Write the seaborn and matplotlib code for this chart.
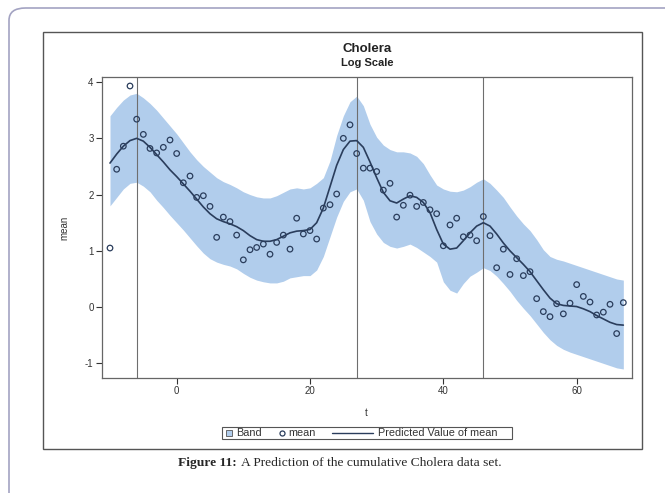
import numpy as np
import pandas as pd
import matplotlib
matplotlib.use("Agg")
import matplotlib.pyplot as plt
import seaborn as sns
from matplotlib.patches import FancyBboxPatch, Rectangle
from matplotlib.lines import Line2D

# ---- data ----
t_obs = list(range(-10, 68))
mean_obs = [1.05, 2.45, 2.86, 3.93, 3.34, 3.07, 2.82, 2.74, 2.84, 2.97,
            2.73, 2.21, 2.33, 1.95, 1.98, 1.79, 1.24, 1.60, 1.52, 1.28,
            0.84, 1.02, 1.06, 1.12, 0.94, 1.15, 1.28, 1.03, 1.58, 1.30,
            1.36, 1.21, 1.76, 1.82, 2.01, 3.00, 3.24, 2.73, 2.47, 2.47,
            2.41, 2.08, 2.20, 1.60, 1.81, 1.99, 1.79, 1.86, 1.73, 1.66,
            1.09, 1.46, 1.58, 1.25, 1.28, 1.18, 1.61, 1.27, 0.70, 1.03,
            0.58, 0.86, 0.56, 0.63, 0.15, -0.08, -0.17, 0.06, -0.12, 0.07,
            0.40, 0.19, 0.09, -0.14, -0.09, 0.05, -0.47, 0.08]
predicted = [2.56, 2.72, 2.86, 2.96, 3.00, 2.95, 2.84, 2.71, 2.58, 2.44,
             2.32, 2.19, 2.06, 1.92, 1.78, 1.66, 1.57, 1.52, 1.48, 1.43,
             1.36, 1.27, 1.20, 1.17, 1.17, 1.20, 1.26, 1.32, 1.35, 1.36,
             1.38, 1.50, 1.76, 2.14, 2.52, 2.80, 2.95, 2.96, 2.84, 2.58,
             2.30, 2.04, 1.89, 1.85, 1.92, 1.98, 1.95, 1.86, 1.68, 1.38,
             1.12, 1.03, 1.05, 1.18, 1.32, 1.44, 1.50, 1.44, 1.30, 1.14,
             1.00, 0.88, 0.76, 0.63, 0.47, 0.31, 0.16, 0.06, 0.03, 0.02,
             0.01, -0.03, -0.08, -0.15, -0.21, -0.27, -0.31, -0.32]
band_upper = [3.40, 3.55, 3.68, 3.77, 3.80, 3.72, 3.62, 3.50, 3.36, 3.22,
              3.08, 2.92, 2.76, 2.62, 2.50, 2.40, 2.30, 2.23, 2.18, 2.12,
              2.05, 2.00, 1.96, 1.94, 1.94, 1.98, 2.04, 2.10, 2.12, 2.10,
              2.12, 2.20, 2.30, 2.60, 3.05, 3.40, 3.65, 3.75, 3.58, 3.25,
              3.02, 2.88, 2.80, 2.76, 2.76, 2.74, 2.68, 2.55, 2.35, 2.17,
              2.10, 2.06, 2.05, 2.08, 2.14, 2.22, 2.28, 2.20, 2.08, 1.95,
              1.78, 1.62, 1.48, 1.36, 1.20, 1.02, 0.90, 0.85, 0.82, 0.78,
              0.74, 0.70, 0.66, 0.62, 0.58, 0.54, 0.50, 0.48]
band_lower = [1.80, 1.95, 2.10, 2.20, 2.22, 2.15, 2.05, 1.90, 1.77, 1.63,
              1.50, 1.37, 1.23, 1.09, 0.96, 0.86, 0.80, 0.76, 0.73, 0.68,
              0.60, 0.53, 0.48, 0.45, 0.43, 0.43, 0.46, 0.52, 0.54, 0.56,
              0.56, 0.66, 0.90, 1.25, 1.60, 1.88, 2.05, 2.10, 1.90, 1.52,
              1.30, 1.15, 1.08, 1.05, 1.08, 1.12, 1.06, 0.98, 0.90, 0.80,
              0.45, 0.30, 0.25, 0.42, 0.55, 0.62, 0.70, 0.65, 0.55, 0.42,
              0.28, 0.12, -0.02, -0.15, -0.30, -0.45, -0.58, -0.68, -0.75, -0.80,
              -0.84, -0.88, -0.92, -0.96, -1.00, -1.04, -1.08, -1.10]
ref_lines = [-6, 27, 46]
x_ticks = [0, 20, 40, 60]
y_ticks = [-1, 0, 1, 2, 3, 4]
legend_labels = ["Band", "mean", "Predicted Value of mean"]

df = pd.DataFrame({"t": t_obs, "mean": mean_obs, "pred": predicted,
                   "upper": band_upper, "lower": band_lower})

sns.set_theme(style="ticks")
plt.rcParams["font.family"] = ["Liberation Sans", "DejaVu Sans"]
plt.rcParams["axes.unicode_minus"] = False

BAND = "#b1cdec"
DARK = "#2a3d5c"

W, H = 665, 493
fig = plt.figure(figsize=(W / 100, H / 100), dpi=100)
fig.patch.set_facecolor("white")

def fx(px):
    return px / W

def fy(py):
    return 1 - py / H

# outer rounded border
outer = FancyBboxPatch((fx(9), fy(520)), fx(700), fy(8) - fy(520),
                       boxstyle="round,pad=0,rounding_size=0.025",
                       transform=fig.transFigure, fill=False,
                       edgecolor="#a3a3c2", linewidth=1.2, clip_on=False)
fig.patches.append(outer)
# SAS frame
frame = Rectangle((fx(43), fy(449)), fx(642) - fx(43), fy(32) - fy(449),
                  transform=fig.transFigure, fill=False,
                  edgecolor="#555555", linewidth=1.0)
fig.patches.append(frame)

ax = fig.add_axes([fx(102), fy(378), fx(632) - fx(102), fy(77) - fy(378)])

ax.fill_between(df["t"], df["lower"], df["upper"], color=BAND,
                linewidth=0, zorder=1)
for xv in ref_lines:
    ax.axvline(xv, color="#6e6e6e", linewidth=0.8, zorder=2)
sns.lineplot(data=df, x="t", y="pred", ax=ax, color=DARK,
             linewidth=1.2, zorder=3)
sns.scatterplot(data=df, x="t", y="mean", ax=ax, marker="o", s=16,
                facecolor="none", edgecolor=DARK, linewidth=0.9,
                zorder=4)

ax.set_xlim(-11.2, 68.3)
ax.set_ylim(-1.26, 4.09)
ax.set_xticks(x_ticks)
ax.set_yticks(y_ticks)
ax.tick_params(axis="both", labelsize=7, length=4, width=0.8,
               colors="#333333", pad=2)
for sp in ax.spines.values():
    sp.set_color("#666666")
    sp.set_linewidth(0.9)
ax.set_xlabel("")
ax.set_ylabel("")

fig.text(fx(64), fy(228), "mean", rotation=90, ha="center", va="center",
         fontsize=7, color="#333333")
fig.text(fx(366), fy(413), "t", ha="center", va="center", fontsize=7,
         color="#333333")
fig.text(fx(367), fy(49), "Cholera", ha="center", va="center",
         fontsize=9.5, fontweight="bold", color="#222222")
fig.text(fx(367), fy(63), "Log Scale", ha="center", va="center",
         fontsize=8, fontweight="bold", color="#222222")

# ---- legend (SAS-style single row) ----
ly = 432.5
lfs = 7.8
fig.canvas.draw()
renderer = fig.canvas.get_renderer()
fig.patches.append(Rectangle((fx(226), fy(ly + 3)), fx(6), fy(ly - 3) - fy(ly + 3),
                             transform=fig.transFigure, facecolor=BAND,
                             edgecolor="#555555", linewidth=0.6))
fig.text(fx(236), fy(ly), legend_labels[0], ha="left", va="center",
         fontsize=lfs, color="#333333")
fig.lines.append(Line2D([fx(282)], [fy(ly)], transform=fig.transFigure,
                        marker="o", linestyle="none", markerfacecolor="none",
                        markeredgecolor=DARK, markersize=3.6,
                        markeredgewidth=0.9))
fig.text(fx(288), fy(ly), legend_labels[1], ha="left", va="center",
         fontsize=lfs, color="#333333")
fig.lines.append(Line2D([fx(332), fx(373)], [fy(ly), fy(ly)],
                        transform=fig.transFigure, color=DARK, linewidth=1.0))
t3 = fig.text(fx(378), fy(ly), legend_labels[2], ha="left", va="center",
              fontsize=lfs, color="#333333")
bb3 = t3.get_window_extent(renderer)
right = max(bb3.x1 + 3, 512)
fig.patches.append(Rectangle((fx(222), fy(ly + 6)), (right - 222) / W,
                             fy(ly - 6) - fy(ly + 6),
                             transform=fig.transFigure, fill=False,
                             edgecolor="#555555", linewidth=0.8))

cap_bold = fig.text(fx(178), fy(463), "Figure 11:", ha="left", va="center",
                    fontsize=9.7, fontweight="bold",
                    family=["Liberation Serif", "DejaVu Serif"])
bb = cap_bold.get_window_extent(renderer)
fig.text(bb.x1 / W + fx(4), fy(463),
         "A Prediction of the cumulative Cholera data set.",
         ha="left", va="center", fontsize=9.7,
         family=["Liberation Serif", "DejaVu Serif"])

fig.savefig("out.png", dpi=100)
